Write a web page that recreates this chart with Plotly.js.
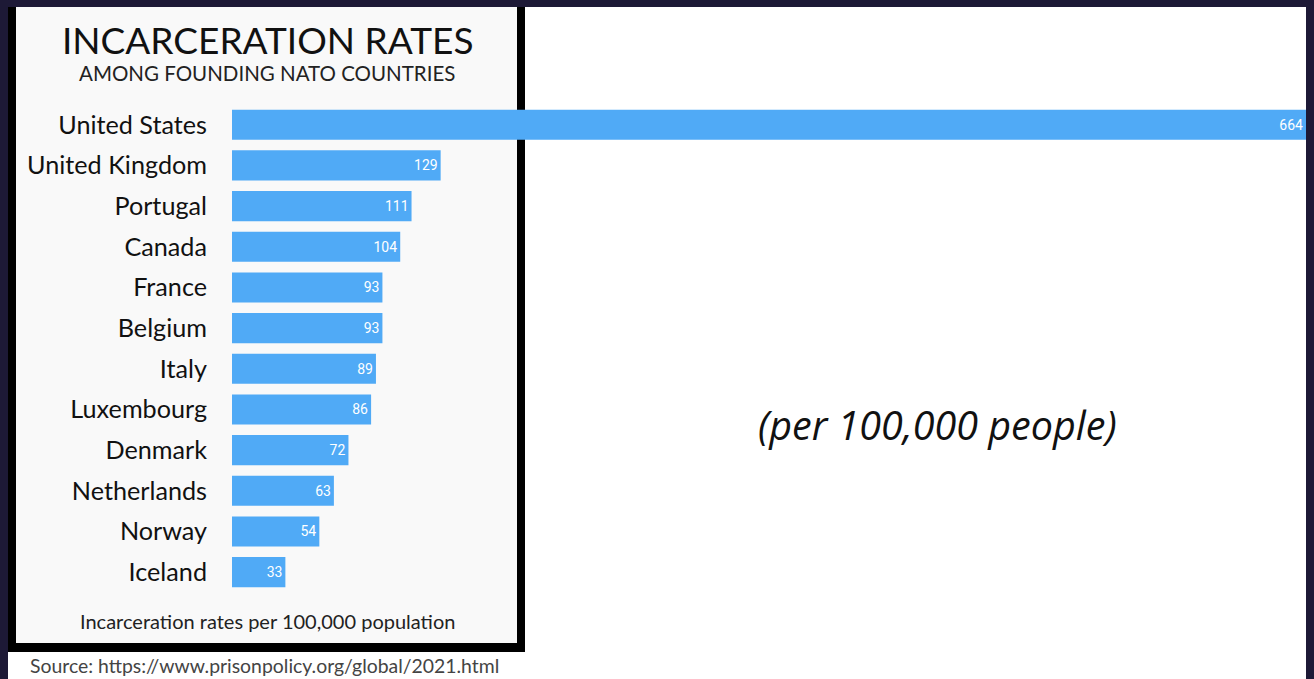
<!DOCTYPE html>
<html><head><meta charset="utf-8">
<script src="https://cdn.plot.ly/plotly-3.0.1.min.js"></script>
<style>html,body{margin:0;padding:0;background:#1d1936;}#chart{width:1314px;height:679px;}</style>
</head><body><div id="chart"></div>
<script>
const countries = ["United States","United Kingdom","Portugal","Canada","France","Belgium","Italy","Luxembourg","Denmark","Netherlands","Norway","Iceland"];
const rates = [664,129,111,104,93,93,89,86,72,63,54,33];
const chartTitle = "INCARCERATION RATES";
const chartSubtitle = "AMONG FOUNDING NATO COUNTRIES";
const axisNote = "Incarceration rates per 100,000 population";
const sourceNote = "Source: https://www.prisonpolicy.org/global/2021.html";
const sideNote = "(per 100,000 people)";

const W = 1314, H = 679;
const px = x => x / W, py = y => 1 - y / H;

const trace = {
  type: "bar", orientation: "h",
  x: rates, y: countries,
  marker: {color: "#50aaf6", line: {width: 0}},
  text: rates.map(String), textposition: "inside", insidetextanchor: "end",
  textfont: {family: "Roboto", size: 14, color: "#ffffff"},
  cliponaxis: false, hoverinfo: "skip"
};

const layout = {
  width: W, height: H,
  margin: {l: 0, r: 0, t: 0, b: 0},
  paper_bgcolor: "#1d1936", plot_bgcolor: "rgba(0,0,0,0)",
  showlegend: false, bargap: 0.26,
  xaxis: {domain: [px(232), px(1306)], range: [0, 664], visible: false, fixedrange: true},
  yaxis: {domain: [py(592.5), py(104.4)], autorange: "reversed", showgrid: false, zeroline: false,
          showline: false, ticks: "", ticklabelstandoff: 24,
          tickfont: {family: "Lato", size: 25.2, color: "#111111"}},
  shapes: [
    {type: "rect", xref: "paper", yref: "paper", x0: px(8), x1: px(1306), y0: py(679), y1: py(7), fillcolor: "#ffffff", line: {width: 0}, layer: "below"},
    {type: "rect", xref: "paper", yref: "paper", x0: px(8), x1: px(525), y0: py(652), y1: py(7), fillcolor: "#000000", line: {width: 0}, layer: "below"},
    {type: "rect", xref: "paper", yref: "paper", x0: px(16), x1: px(517), y0: py(643), y1: py(7), fillcolor: "#f9f9f9", line: {width: 0}, layer: "below"}
  ],
  annotations: [
    {xref: "paper", yref: "paper", x: px(267), y: py(39), text: chartTitle, showarrow: false, xanchor: "center", yanchor: "middle",
     font: {family: "Lato", size: 37, color: "#111111"}},
    {xref: "paper", yref: "paper", x: px(267), y: py(73), text: chartSubtitle, showarrow: false, xanchor: "center", yanchor: "middle",
     font: {family: "Lato", size: 20.5, color: "#222222"}},
    {xref: "paper", yref: "paper", x: px(267), y: py(621), text: axisNote, showarrow: false, xanchor: "center", yanchor: "middle",
     font: {family: "Lato", size: 20, color: "#222222"}},
    {xref: "paper", yref: "paper", x: px(28), y: py(665), text: sourceNote, showarrow: false, xanchor: "left", yanchor: "middle",
     font: {family: "Lato", size: 19.4, color: "#444444"}},
    {xref: "paper", yref: "paper", x: px(937), y: py(425), text: "<i>" + sideNote + "</i>", showarrow: false, xanchor: "center", yanchor: "middle",
     font: {family: "Open Sans", size: 39.5, color: "#111111"}}
  ]
};

Plotly.newPlot("chart", [trace], layout, {displayModeBar: false, staticPlot: true});
</script></body></html>
